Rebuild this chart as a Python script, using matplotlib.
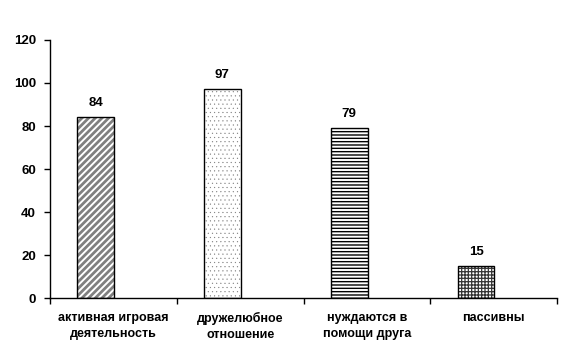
import matplotlib.pyplot as plt
import matplotlib as mpl

# ── Data ──
categories = ["активная игровая\nдеятельность", "дружелюбное\nотношение",
              "нуждаются в\nпомощи друга", "пассивны"]
values = [84, 97, 79, 15]
hatches = ["/////", "....", "-----", "+++++"]
hatch_colors = ["#808080", "#808080", "black", "#333333"]
hatch_widths = [2.0, 0.3, 1.0, 0.9]
y_ticks = [0, 20, 40, 60, 80, 100, 120]

plt.rcParams["font.family"] = ["Liberation Sans", "DejaVu Sans"]
plt.rcParams["font.weight"] = "bold"

fig = plt.figure(figsize=(5.81, 3.6), dpi=100)
ax = fig.add_axes([0.086, 0.172, 0.873, 0.717])

shift = -0.14
for i, (v, h, hc, hw) in enumerate(zip(values, hatches, hatch_colors, hatch_widths)):
    mpl.rcParams["hatch.linewidth"] = hw
    ax.bar(i + shift, v, width=0.29, color="white", edgecolor=hc, linewidth=0, hatch=h)
    ax.bar(i + shift, v, width=0.29, color="none", edgecolor="black", linewidth=1.0)
    ax.text(i + shift, v + 6.5, str(v), ha="center", va="center", fontsize=9.5, fontweight="bold")

ax.set_xlim(-0.5, len(values) - 0.5)
ax.set_ylim(0, 120)
ax.set_yticks(y_ticks)
ax.tick_params(axis="y", labelsize=9.5, length=4, width=1, direction="out", pad=6)

ax.set_xticks([i - 0.5 for i in range(len(values) + 1)])
ax.set_xticklabels([])
ax.tick_params(axis="x", length=4, width=1, direction="out")
for i, c in enumerate(categories):
    ax.text(i, -6.5, c, ha="center", va="top", fontsize=9, fontweight="bold",
            linespacing=1.45)

for s in ["top", "right"]:
    ax.spines[s].set_visible(False)
for s in ["left", "bottom"]:
    ax.spines[s].set_linewidth(1)

plt.savefig("out.png", dpi=100)
